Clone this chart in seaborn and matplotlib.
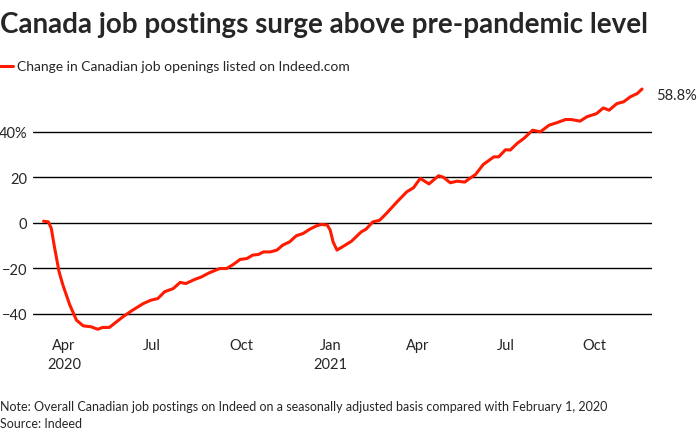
import matplotlib
matplotlib.use('Agg')
import matplotlib.pyplot as plt
import pandas as pd
import seaborn as sns

# values (% change vs Feb 1 2020)
dates = [
    '2020-03-11', '2020-03-16', '2020-03-19', '2020-03-22', '2020-03-27', '2020-03-31',
    '2020-04-07', '2020-04-14', '2020-04-21', '2020-04-29', '2020-05-06', '2020-05-11',
    '2020-05-18', '2020-05-23', '2020-06-01', '2020-06-11', '2020-06-22', '2020-06-30',
    '2020-07-07', '2020-07-14', '2020-07-23', '2020-07-30', '2020-08-05', '2020-08-14',
    '2020-08-21', '2020-08-29', '2020-09-09', '2020-09-16', '2020-09-23', '2020-09-30',
    '2020-10-07', '2020-10-13', '2020-10-19', '2020-10-24', '2020-10-31', '2020-11-07',
    '2020-11-13', '2020-11-20', '2020-11-27', '2020-12-04', '2020-12-11', '2020-12-18',
    '2020-12-23', '2020-12-29', '2021-01-01', '2021-01-04', '2021-01-08', '2021-01-15',
    '2021-01-23', '2021-02-02', '2021-02-07', '2021-02-14', '2021-02-21', '2021-02-28',
    '2021-03-11', '2021-03-21', '2021-03-28', '2021-04-04', '2021-04-13', '2021-04-23',
    '2021-04-28', '2021-05-05', '2021-05-12', '2021-05-20', '2021-05-25', '2021-05-31',
    '2021-06-08', '2021-06-19', '2021-06-24', '2021-07-01', '2021-07-06', '2021-07-13',
    '2021-07-20', '2021-07-29', '2021-08-06', '2021-08-15', '2021-08-23', '2021-09-01',
    '2021-09-07', '2021-09-16', '2021-09-23', '2021-10-03', '2021-10-10', '2021-10-16',
    '2021-10-24', '2021-10-31', '2021-11-07', '2021-11-14', '2021-11-19',
]
change = [
    0.7, 0.4, -2.5, -10.0, -21.5, -27.4,
    -36.0, -42.8, -45.3, -45.7, -46.8, -46.0,
    -46.0, -44.3, -41.3, -38.4, -35.5, -34.0,
    -33.3, -30.3, -28.9, -26.2, -26.7, -24.9,
    -23.8, -22.0, -20.1, -20.1, -18.3, -16.1,
    -15.7, -14.2, -13.9, -12.8, -12.8, -12.0,
    -9.8, -8.4, -5.7, -4.7, -2.8, -1.3,
    -0.7, -1.0, -3.2, -8.4, -12.0, -10.2,
    -8.1, -4.0, -2.8, 0.4, 1.1, 4.1,
    9.2, 13.6, 15.4, 19.5, 17.1, 20.7,
    20.0, 17.6, 18.3, 17.9, 19.5, 21.2,
    25.6, 29.0, 29.0, 32.1, 32.0, 34.9,
    37.1, 40.7, 40.0, 42.9, 44.0, 45.4,
    45.4, 44.7, 46.6, 48.0, 50.5, 49.5,
    52.4, 53.2, 55.4, 56.8, 58.8,
]
y_ticks = [-40, -20, 0, 20, 40]
y_tick_labels = ['\u221240', '\u221220', '0', '20', '40%']
x_ticks = ['2020-04-01', '2020-07-01', '2020-10-01', '2021-01-01',
           '2021-04-01', '2021-07-01', '2021-10-01']
x_tick_labels = ['Apr\n2020', 'Jul', 'Oct', 'Jan\n2021', 'Apr', 'Jul', 'Oct']

df = pd.DataFrame({'date': pd.to_datetime(dates), 'change': change})

sns.set_style('white')
plt.rcParams['font.family'] = ['Lato', 'DejaVu Sans']

fig = plt.figure(figsize=(7, 4.35), dpi=100)
ax = fig.add_axes([0.047, 0.2345, 0.884, 0.570])

for v in y_ticks:
    ax.axhline(v, color='black', linewidth=1, zorder=1)

sns.lineplot(data=df, x='date', y='change', ax=ax, color='#ff1a00', linewidth=2.2, zorder=3)

ax.set_xlim(pd.Timestamp('2020-02-29'), pd.Timestamp('2021-11-29'))
ax.set_ylim(-48, 61)
ax.set_yticks(y_ticks)
ax.set_yticklabels(y_tick_labels, fontsize=10.5)
ax.set_xticks(pd.to_datetime(x_ticks))
ax.set_xticklabels(x_tick_labels, fontsize=10.5, linespacing=1.5)
ax.tick_params(axis='x', length=0, pad=4)
ax.tick_params(axis='y', length=0, pad=4)
ax.set_xlabel('')
ax.set_ylabel('')
for s in ax.spines.values():
    s.set_visible(False)

last = df.iloc[-1]
ax.annotate(f"{last['change']:.1f}%", xy=(last['date'], last['change']),
            xytext=(10, -4), textcoords='offset points', fontsize=10.5,
            va='center', ha='left', annotation_clip=False)

fig.text(0.0, 0.943, 'Canada job postings surge above pre-pandemic level',
         fontsize=20, fontweight='bold', va='center', ha='left')
fig.lines.append(plt.Line2D([0.0, 0.019], [0.845, 0.845], color='#ff1a00',
                            linewidth=2.2, transform=fig.transFigure))
fig.text(0.024, 0.845, 'Change in Canadian job openings listed on Indeed.com',
         fontsize=10, va='center', ha='left')
fig.text(0.0, 0.064, 'Note: Overall Canadian job postings on Indeed on a seasonally adjusted '
         'basis compared with February 1, 2020', fontsize=9, va='center', ha='left')
fig.text(0.0, 0.025, 'Source: Indeed', fontsize=9, va='center', ha='left')

fig.savefig('out.png', dpi=100)
plt.close(fig)
print('Saved: out.png')
